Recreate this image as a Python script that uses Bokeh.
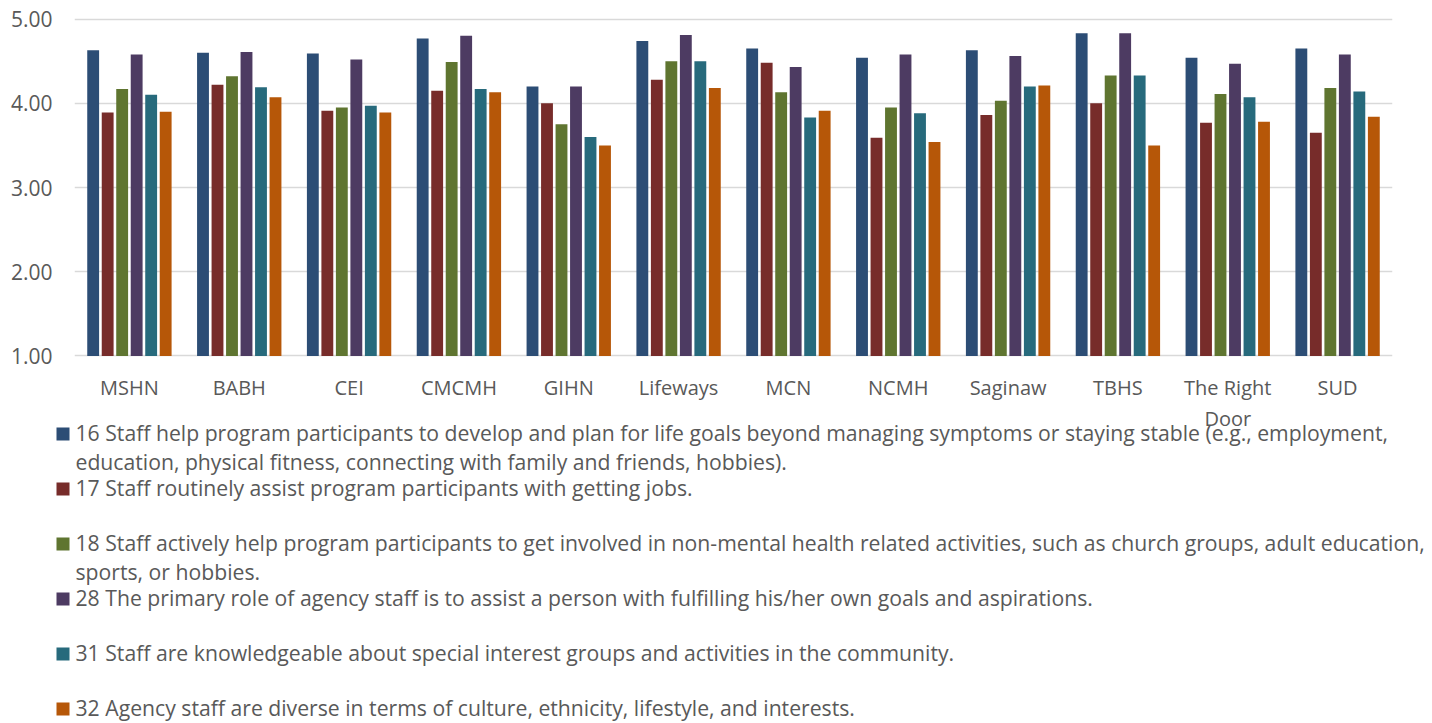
from bokeh.plotting import figure
from bokeh.layouts import column
from bokeh.models import (Range1d, FixedTicker, PrintfTickFormatter, ColumnDataSource, Plot)
from bokeh.core.properties import value
from bokeh.transform import dodge
from bokeh.embed import file_html
from bokeh.resources import INLINE

# ---------------- data ----------------
categories = ["MSHN", "BABH", "CEI", "CMCMH", "GIHN", "Lifeways", "MCN", "NCMH",
              "Saginaw", "TBHS", "The Right Door", "SUD"]
q16 = [4.63, 4.60, 4.59, 4.77, 4.20, 4.74, 4.65, 4.54, 4.63, 4.83, 4.54, 4.65]
q17 = [3.89, 4.22, 3.91, 4.15, 4.00, 4.28, 4.48, 3.59, 3.86, 4.00, 3.77, 3.65]
q18 = [4.17, 4.32, 3.95, 4.49, 3.75, 4.50, 4.13, 3.95, 4.03, 4.33, 4.11, 4.18]
q28 = [4.58, 4.61, 4.52, 4.80, 4.20, 4.81, 4.43, 4.58, 4.56, 4.83, 4.47, 4.58]
q31 = [4.10, 4.19, 3.97, 4.17, 3.60, 4.50, 3.83, 3.88, 4.20, 4.33, 4.07, 4.14]
q32 = [3.90, 4.07, 3.89, 4.13, 3.50, 4.18, 3.91, 3.54, 4.21, 3.50, 3.78, 3.84]

series_keys = ["q16", "q17", "q18", "q28", "q31", "q32"]
series_lines = [
    ["16 Staff help program participants to develop and plan for life goals beyond managing symptoms or staying stable (e.g., employment,",
     "education, physical fitness, connecting with family and friends, hobbies)."],
    ["17 Staff routinely assist program participants with getting jobs."],
    ["18 Staff actively help program participants to get involved in non-mental health related activities, such as church groups, adult education,",
     "sports, or hobbies."],
    ["28 The primary role of agency staff is to assist a person with fulfilling his/her own goals and aspirations."],
    ["31 Staff are knowledgeable about special interest groups and activities in the community."],
    ["32 Agency staff are diverse in terms of culture, ethnicity, lifestyle, and interests."],
]
wrapped_label = {"The Right Door": ["The Right", "Door"]}
y_ticks = [1, 2, 3, 4, 5]
colors = ["#2C4D75", "#772C2A", "#5F7530", "#4D3B62", "#276A7C", "#B65708"]

# ---------------- layout ----------------
W = 1432
H_TOP = 403
H_LEG = 723 - H_TOP
FRAME_L, FRAME_R = 74, 1392
TEXT = "#595959"
FONT = "Open Sans"
TEXT_DY = -8          # baseline correction for text glyphs

cat_idx = list(range(len(categories)))
cat_text = [wrapped_label.get(c, [c])[0] for c in categories]

p = figure(width=W, height=H_TOP,
           x_range=Range1d(-0.5, len(categories) - 0.5),
           y_range=Range1d(0.97, 5.03),
           output_backend="svg", toolbar_location=None,
           min_border_left=FRAME_L, min_border_right=W - FRAME_R,
           min_border_top=16, min_border_bottom=H_TOP - 360)
p.outline_line_color = None
p.background_fill_color = "white"
p.border_fill_color = "white"

src = ColumnDataSource(dict(idx=cat_idx, cat=categories, q16=q16, q17=q17, q18=q18,
                            q28=q28, q31=q31, q32=q32))
STEP = 0.132
BAR_W = 0.108
for i, (key, col) in enumerate(zip(series_keys, colors)):
    p.vbar(x=dodge("idx", (i - 2.5) * STEP), top=key, bottom=1,
           width=BAR_W, source=src, fill_color=col, line_color=None)

# axes
p.yaxis.ticker = FixedTicker(ticks=y_ticks)
p.yaxis.formatter = PrintfTickFormatter(format="%.2f")
p.yaxis.axis_line_color = None
p.yaxis.major_tick_line_color = None
p.yaxis.minor_tick_line_color = None
p.yaxis.major_tick_out = 0
p.yaxis.major_tick_in = 0
p.yaxis.major_label_standoff = 22
p.yaxis.major_label_text_font = FONT
p.yaxis.major_label_text_font_size = "21px"
p.yaxis.major_label_text_color = TEXT

p.xaxis.ticker = FixedTicker(ticks=cat_idx)
p.xaxis.major_label_overrides = {i: t for i, t in zip(cat_idx, cat_text)}
p.xaxis.axis_line_color = None
p.xaxis.major_tick_line_color = None
p.xaxis.minor_tick_line_color = None
p.xaxis.major_tick_out = 0
p.xaxis.major_tick_in = 0
p.xaxis.major_label_standoff = 15
p.xaxis.major_label_text_font = FONT
p.xaxis.major_label_text_font_size = "20px"
p.xaxis.major_label_text_color = TEXT

p.ygrid.grid_line_color = "#D9D9D9"
p.ygrid.grid_line_width = 1.5
p.xgrid.grid_line_color = None

# ---------------- legend panel (pixel coordinates, y downward) ----------------
leg = figure(width=W, height=H_LEG, x_range=Range1d(0, W), y_range=Range1d(H_LEG, 0),
             output_backend="svg", toolbar_location=None,
             x_axis_location=None, y_axis_location=None,
             min_border=0, min_border_left=0, min_border_right=0,
             min_border_top=0, min_border_bottom=0)
leg.outline_line_color = None
leg.xgrid.grid_line_color = None
leg.ygrid.grid_line_color = None
leg.background_fill_color = "white"
leg.border_fill_color = "white"

# continuation line of the wrapped category label, under its category
cat_w = (FRAME_R - FRAME_L) / len(categories)
cont = dict(x=[], y=[], text=[])
for k, v in wrapped_label.items():
    for j, t in enumerate(v[1:], start=1):
        cont["x"].append(FRAME_L + (categories.index(k) + 0.5) * cat_w)
        cont["y"].append(396 + 30 * j - H_TOP + TEXT_DY)
        cont["text"].append(t)
leg.text(x="x", y="y", text="text", source=ColumnDataSource(cont),
         text_font=value(FONT), text_font_size="20px", text_color=TEXT,
         text_align="center", text_baseline="alphabetic")

sq = dict(left=[], right=[], top=[], bottom=[], color=[])
tx = dict(x=[], y=[], text=[])
for i, (lines, col) in enumerate(zip(series_lines, colors)):
    base = 440 + 55 * i - H_TOP
    sq["left"].append(56)
    sq["right"].append(69)
    sq["top"].append(base - 13)
    sq["bottom"].append(base)
    sq["color"].append(col)
    for j, line in enumerate(lines):
        tx["x"].append(75)
        tx["y"].append(base + 29 * j + TEXT_DY)
        tx["text"].append(line)
leg.quad(left="left", right="right", top="top", bottom="bottom", color="color",
         source=ColumnDataSource(sq), line_color=None)
leg.text(x="x", y="y", text="text", source=ColumnDataSource(tx),
         text_font=value(FONT), text_font_size="21.2px", text_color=TEXT,
         text_align="left", text_baseline="alphabetic")

if "frame_align" in Plot.properties():
    p.frame_align = False
    leg.frame_align = False
    root = column(p, leg, spacing=0)
else:
    root = [p, leg]

open("out.html", "w").write(file_html(root, INLINE))
